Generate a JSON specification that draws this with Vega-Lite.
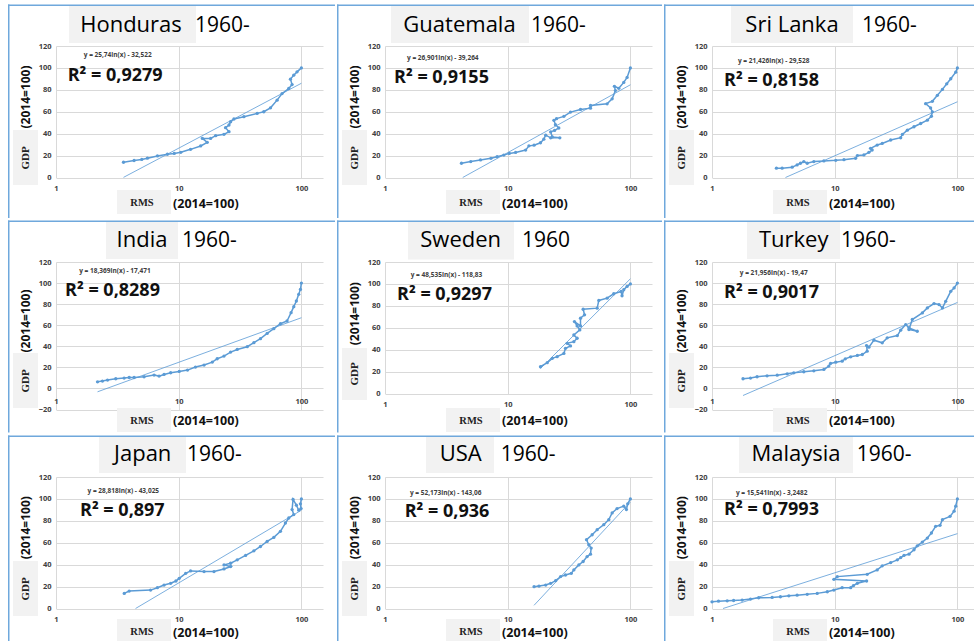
{
"$schema": "https://vega.github.io/schema/vega-lite/v6.json",
"padding": {"left": 7, "top": 3, "right": 0, "bottom": 0},
"background": "white",
"spacing": 0,
"columns": 3,
"config": {
  "view": {"stroke": null},
  "axis": {"grid": true, "gridColor": "#d9d9d9", "gridWidth": 1, "domain": false, "ticks": false, "labelFont": "Open Sans", "labelFontSize": 7.5, "labelFontWeight": "bold", "labelColor": "#404040", "labelFlush": false, "labelOverlap": false, "labelSeparation": 0, "labelBound": false},
  "axisX": {"labelPadding": 7},
  "axisY": {"labelPadding": 5, "labelOverlap": false}
},
"datasets": {
"pts": [
{"c":"Honduras","i":1,"x":3.55,"y":13.9},{"c":"Honduras","i":2,"x":4.33,"y":15.5},{"c":"Honduras","i":3,"x":5.0,"y":16.5},{"c":"Honduras","i":4,"x":5.56,"y":17.6},{"c":"Honduras","i":5,"x":6.71,"y":19.7},{"c":"Honduras","i":6,"x":8.09,"y":21.2},{"c":"Honduras","i":7,"x":9.2,"y":22.0},{"c":"Honduras","i":8,"x":10.4,"y":23.0},{"c":"Honduras","i":9,"x":12.5,"y":25.7},{"c":"Honduras","i":10,"x":15.1,"y":28.8},{"c":"Honduras","i":11,"x":17.1,"y":32.1},{"c":"Honduras","i":12,"x":15.6,"y":35.7},{"c":"Honduras","i":13,"x":18.2,"y":35.7},{"c":"Honduras","i":14,"x":20.0,"y":38.2},{"c":"Honduras","i":15,"x":23.4,"y":39.4},{"c":"Honduras","i":16,"x":25.7,"y":41.8},{"c":"Honduras","i":17,"x":24.1,"y":45.5},{"c":"Honduras","i":18,"x":25.7,"y":47.9},{"c":"Honduras","i":19,"x":26.5,"y":50.9},{"c":"Honduras","i":20,"x":28.2,"y":53.4},{"c":"Honduras","i":21,"x":34.0,"y":55.5},{"c":"Honduras","i":22,"x":43.6,"y":58.5},{"c":"Honduras","i":23,"x":49.4,"y":60.0},{"c":"Honduras","i":24,"x":56.0,"y":63.6},{"c":"Honduras","i":25,"x":63.4,"y":70.6},{"c":"Honduras","i":26,"x":69.6,"y":76.6},{"c":"Honduras","i":27,"x":78.9,"y":81.2},{"c":"Honduras","i":28,"x":84.0,"y":84.8},{"c":"Honduras","i":29,"x":81.4,"y":89.7},{"c":"Honduras","i":30,"x":86.6,"y":93.4},{"c":"Honduras","i":31,"x":92.2,"y":96.4},{"c":"Honduras","i":32,"x":100,"y":100},
{"c":"Guatemala","i":1,"x":4.2,"y":13},{"c":"Guatemala","i":2,"x":5.0,"y":14.5},{"c":"Guatemala","i":3,"x":6.0,"y":16},{"c":"Guatemala","i":4,"x":7.3,"y":17.5},{"c":"Guatemala","i":5,"x":8.2,"y":19},{"c":"Guatemala","i":6,"x":9.3,"y":20.5},{"c":"Guatemala","i":7,"x":10.3,"y":22},{"c":"Guatemala","i":8,"x":11.6,"y":22.9},{"c":"Guatemala","i":9,"x":14,"y":25},{"c":"Guatemala","i":10,"x":14.9,"y":28.9},{"c":"Guatemala","i":11,"x":16.4,"y":29.5},{"c":"Guatemala","i":12,"x":18.5,"y":31.7},{"c":"Guatemala","i":13,"x":19.7,"y":35},{"c":"Guatemala","i":14,"x":20.4,"y":38.6},{"c":"Guatemala","i":15,"x":22.4,"y":36.2},{"c":"Guatemala","i":16,"x":26.6,"y":36.2},{"c":"Guatemala","i":17,"x":23.1,"y":37},{"c":"Guatemala","i":18,"x":22.4,"y":41.6},{"c":"Guatemala","i":19,"x":24.1,"y":43},{"c":"Guatemala","i":20,"x":26.1,"y":45.2},{"c":"Guatemala","i":21,"x":24.5,"y":48.2},{"c":"Guatemala","i":22,"x":23.8,"y":52.2},{"c":"Guatemala","i":23,"x":25,"y":53.7},{"c":"Guatemala","i":24,"x":28.7,"y":55.8},{"c":"Guatemala","i":25,"x":32.5,"y":59.7},{"c":"Guatemala","i":26,"x":39.2,"y":62.1},{"c":"Guatemala","i":27,"x":47.3,"y":63.3},{"c":"Guatemala","i":28,"x":47.3,"y":65.7},{"c":"Guatemala","i":29,"x":64.6,"y":67.2},{"c":"Guatemala","i":30,"x":71,"y":71.8},{"c":"Guatemala","i":31,"x":75.5,"y":79.3},{"c":"Guatemala","i":32,"x":74.1,"y":83.2},{"c":"Guatemala","i":33,"x":80.4,"y":81.4},{"c":"Guatemala","i":34,"x":88.3,"y":86.8},{"c":"Guatemala","i":35,"x":94,"y":91.3},{"c":"Guatemala","i":36,"x":100,"y":100},
{"c":"Sri Lanka","i":1,"x":3.35,"y":8.5},{"c":"Sri Lanka","i":2,"x":3.73,"y":8.5},{"c":"Sri Lanka","i":3,"x":4.5,"y":9.4},{"c":"Sri Lanka","i":4,"x":4.94,"y":11.5},{"c":"Sri Lanka","i":5,"x":5.26,"y":13},{"c":"Sri Lanka","i":6,"x":5.6,"y":14.5},{"c":"Sri Lanka","i":7,"x":5.97,"y":13},{"c":"Sri Lanka","i":8,"x":6.76,"y":14.5},{"c":"Sri Lanka","i":9,"x":8.16,"y":15.1},{"c":"Sri Lanka","i":10,"x":10.2,"y":15.7},{"c":"Sri Lanka","i":11,"x":11.9,"y":16.3},{"c":"Sri Lanka","i":12,"x":14.8,"y":17.5},{"c":"Sri Lanka","i":13,"x":15.3,"y":20},{"c":"Sri Lanka","i":14,"x":17.3,"y":20.6},{"c":"Sri Lanka","i":15,"x":19,"y":23},{"c":"Sri Lanka","i":16,"x":20.2,"y":25.1},{"c":"Sri Lanka","i":17,"x":19.6,"y":26.6},{"c":"Sri Lanka","i":18,"x":22.2,"y":29.6},{"c":"Sri Lanka","i":19,"x":24.4,"y":31.1},{"c":"Sri Lanka","i":20,"x":28.6,"y":34.2},{"c":"Sri Lanka","i":21,"x":34.5,"y":36.3},{"c":"Sri Lanka","i":22,"x":35.6,"y":39.3},{"c":"Sri Lanka","i":23,"x":39.1,"y":43.2},{"c":"Sri Lanka","i":24,"x":44.3,"y":46.3},{"c":"Sri Lanka","i":25,"x":50.2,"y":49.3},{"c":"Sri Lanka","i":26,"x":56.9,"y":52.3},{"c":"Sri Lanka","i":27,"x":61.4,"y":55.9},{"c":"Sri Lanka","i":28,"x":62.5,"y":59.9},{"c":"Sri Lanka","i":29,"x":60.5,"y":63.5},{"c":"Sri Lanka","i":30,"x":55.1,"y":67.4},{"c":"Sri Lanka","i":31,"x":62.5,"y":69.5},{"c":"Sri Lanka","i":32,"x":68.7,"y":75},{"c":"Sri Lanka","i":33,"x":75.5,"y":80.4},{"c":"Sri Lanka","i":34,"x":81.9,"y":85.5},{"c":"Sri Lanka","i":35,"x":88.3,"y":90.1},{"c":"Sri Lanka","i":36,"x":96.9,"y":96.1},{"c":"Sri Lanka","i":37,"x":100,"y":100},
{"c":"India","i":1,"x":2.18,"y":6.3},{"c":"India","i":2,"x":2.39,"y":7},{"c":"India","i":3,"x":2.63,"y":7.9},{"c":"India","i":4,"x":3.07,"y":9.2},{"c":"India","i":5,"x":3.59,"y":9.8},{"c":"India","i":6,"x":3.95,"y":10.4},{"c":"India","i":7,"x":4.33,"y":10.4},{"c":"India","i":8,"x":5.22,"y":11.1},{"c":"India","i":9,"x":6.3,"y":12.7},{"c":"India","i":10,"x":6.92,"y":11.7},{"c":"India","i":11,"x":7.6,"y":13.3},{"c":"India","i":12,"x":8.6,"y":14.9},{"c":"India","i":13,"x":10.1,"y":16.1},{"c":"India","i":14,"x":11.8,"y":17.4},{"c":"India","i":15,"x":13.7,"y":20.3},{"c":"India","i":16,"x":16.1,"y":22.2},{"c":"India","i":17,"x":18.8,"y":25},{"c":"India","i":18,"x":20.6,"y":28.2},{"c":"India","i":19,"x":23.4,"y":30.7},{"c":"India","i":20,"x":26.5,"y":34.5},{"c":"India","i":21,"x":30,"y":37},{"c":"India","i":22,"x":36.2,"y":39.6},{"c":"India","i":23,"x":41,"y":43.4},{"c":"India","i":24,"x":46.4,"y":47.2},{"c":"India","i":25,"x":52.6,"y":52.2},{"c":"India","i":26,"x":59.6,"y":56.7},{"c":"India","i":27,"x":67.5,"y":61.4},{"c":"India","i":28,"x":76.4,"y":64},{"c":"India","i":29,"x":82.4,"y":71.9},{"c":"India","i":30,"x":86.7,"y":77.6},{"c":"India","i":31,"x":91,"y":83},{"c":"India","i":32,"x":95.1,"y":89.3},{"c":"India","i":33,"x":98.2,"y":94},{"c":"India","i":34,"x":100,"y":100},
{"c":"Sweden","i":1,"x":18.5,"y":24.4},{"c":"Sweden","i":2,"x":21,"y":28.1},{"c":"Sweden","i":3,"x":23.1,"y":32.1},{"c":"Sweden","i":4,"x":25.3,"y":33.6},{"c":"Sweden","i":5,"x":28.7,"y":36.6},{"c":"Sweden","i":6,"x":29.6,"y":41.2},{"c":"Sweden","i":7,"x":32.5,"y":43.4},{"c":"Sweden","i":8,"x":30.5,"y":45.8},{"c":"Sweden","i":9,"x":34.6,"y":47.3},{"c":"Sweden","i":10,"x":36.8,"y":50.4},{"c":"Sweden","i":11,"x":34.6,"y":53.4},{"c":"Sweden","i":12,"x":38.7,"y":58},{"c":"Sweden","i":13,"x":36.8,"y":61.7},{"c":"Sweden","i":14,"x":35,"y":65.6},{"c":"Sweden","i":15,"x":39.2,"y":61.7},{"c":"Sweden","i":16,"x":39.2,"y":68.7},{"c":"Sweden","i":17,"x":42.3,"y":71.8},{"c":"Sweden","i":18,"x":41.2,"y":76.9},{"c":"Sweden","i":19,"x":53.6,"y":77.9},{"c":"Sweden","i":20,"x":55.3,"y":84.9},{"c":"Sweden","i":21,"x":64.6,"y":87},{"c":"Sweden","i":22,"x":73.2,"y":91},{"c":"Sweden","i":23,"x":84,"y":93.1},{"c":"Sweden","i":24,"x":85.5,"y":89.2},{"c":"Sweden","i":25,"x":88.3,"y":94.7},{"c":"Sweden","i":26,"x":94,"y":97.7},{"c":"Sweden","i":27,"x":100,"y":100},
{"c":"Turkey","i":1,"x":1.79,"y":9.2},{"c":"Turkey","i":2,"x":2.06,"y":9.8},{"c":"Turkey","i":3,"x":2.33,"y":11.1},{"c":"Turkey","i":4,"x":2.81,"y":12},{"c":"Turkey","i":5,"x":3.4,"y":12.6},{"c":"Turkey","i":6,"x":4.1,"y":13.9},{"c":"Turkey","i":7,"x":4.64,"y":14.8},{"c":"Turkey","i":8,"x":5.6,"y":15.8},{"c":"Turkey","i":9,"x":6.76,"y":16.7},{"c":"Turkey","i":10,"x":8.16,"y":18},{"c":"Turkey","i":11,"x":8.96,"y":21.2},{"c":"Turkey","i":12,"x":9.25,"y":23.7},{"c":"Turkey","i":13,"x":10.2,"y":24.9},{"c":"Turkey","i":14,"x":11.5,"y":25.9},{"c":"Turkey","i":15,"x":12.2,"y":28.1},{"c":"Turkey","i":16,"x":13.5,"y":30},{"c":"Turkey","i":17,"x":15.3,"y":31.3},{"c":"Turkey","i":18,"x":16.8,"y":32.2},{"c":"Turkey","i":19,"x":18.4,"y":35.4},{"c":"Turkey","i":20,"x":18.2,"y":40.7},{"c":"Turkey","i":21,"x":19,"y":39.2},{"c":"Turkey","i":22,"x":20.9,"y":45.8},{"c":"Turkey","i":23,"x":24.4,"y":43.3},{"c":"Turkey","i":24,"x":26.8,"y":48},{"c":"Turkey","i":25,"x":32.4,"y":50.2},{"c":"Turkey","i":26,"x":34.5,"y":55.3},{"c":"Turkey","i":27,"x":37.9,"y":60.6},{"c":"Turkey","i":28,"x":40.3,"y":57.5},{"c":"Turkey","i":29,"x":47.1,"y":54.3},{"c":"Turkey","i":30,"x":40.3,"y":55.9},{"c":"Turkey","i":31,"x":42.9,"y":65.4},{"c":"Turkey","i":32,"x":51.8,"y":71.7},{"c":"Turkey","i":33,"x":56.9,"y":76.4},{"c":"Turkey","i":34,"x":64.5,"y":80.5},{"c":"Turkey","i":35,"x":70.8,"y":79.6},{"c":"Turkey","i":36,"x":75.5,"y":76.4},{"c":"Turkey","i":37,"x":80.3,"y":82.7},{"c":"Turkey","i":38,"x":88.3,"y":92.2},{"c":"Turkey","i":39,"x":94,"y":95.4},{"c":"Turkey","i":40,"x":100,"y":100},
{"c":"Japan","i":1,"x":3.6,"y":13.8},{"c":"Japan","i":2,"x":3.95,"y":15.9},{"c":"Japan","i":3,"x":5.9,"y":16.8},{"c":"Japan","i":4,"x":6.7,"y":19},{"c":"Japan","i":5,"x":7.6,"y":21.4},{"c":"Japan","i":6,"x":8.6,"y":23},{"c":"Japan","i":7,"x":9.5,"y":25.1},{"c":"Japan","i":8,"x":10.1,"y":27.5},{"c":"Japan","i":9,"x":11.4,"y":32.1},{"c":"Japan","i":10,"x":12.5,"y":34.3},{"c":"Japan","i":11,"x":16.1,"y":33.7},{"c":"Japan","i":12,"x":19.4,"y":33.7},{"c":"Japan","i":13,"x":23.4,"y":36.1},{"c":"Japan","i":14,"x":26.5,"y":38.3},{"c":"Japan","i":15,"x":23.4,"y":39.8},{"c":"Japan","i":16,"x":26.5,"y":41.3},{"c":"Japan","i":17,"x":30,"y":44.4},{"c":"Japan","i":18,"x":35.1,"y":48.4},{"c":"Japan","i":19,"x":41,"y":52.6},{"c":"Japan","i":20,"x":46.4,"y":56.6},{"c":"Japan","i":21,"x":52.6,"y":61.2},{"c":"Japan","i":22,"x":59.6,"y":64.9},{"c":"Japan","i":23,"x":67.5,"y":70.4},{"c":"Japan","i":24,"x":74.1,"y":78},{"c":"Japan","i":25,"x":78.9,"y":82.6},{"c":"Japan","i":26,"x":86.7,"y":85.7},{"c":"Japan","i":27,"x":84,"y":90.3},{"c":"Japan","i":28,"x":85.5,"y":99.5},{"c":"Japan","i":29,"x":91,"y":94.3},{"c":"Japan","i":30,"x":95.1,"y":89.7},{"c":"Japan","i":31,"x":99.4,"y":91.2},{"c":"Japan","i":32,"x":98.2,"y":95.5},{"c":"Japan","i":33,"x":100,"y":100},
{"c":"USA","i":1,"x":16.4,"y":19.9},{"c":"USA","i":2,"x":18,"y":20.5},{"c":"USA","i":3,"x":20.4,"y":21.4},{"c":"USA","i":4,"x":22.4,"y":23},{"c":"USA","i":5,"x":24.6,"y":25.4},{"c":"USA","i":6,"x":27,"y":29.1},{"c":"USA","i":7,"x":29.6,"y":30.6},{"c":"USA","i":8,"x":33,"y":32.1},{"c":"USA","i":9,"x":34.6,"y":35.2},{"c":"USA","i":10,"x":38,"y":39.8},{"c":"USA","i":11,"x":41.2,"y":42.9},{"c":"USA","i":12,"x":44.4,"y":47.4},{"c":"USA","i":13,"x":47.3,"y":49.6},{"c":"USA","i":14,"x":47.9,"y":55.1},{"c":"USA","i":15,"x":45.8,"y":58.2},{"c":"USA","i":16,"x":43.9,"y":62.8},{"c":"USA","i":17,"x":48.8,"y":67.3},{"c":"USA","i":18,"x":53.6,"y":71.9},{"c":"USA","i":19,"x":60.7,"y":76.5},{"c":"USA","i":20,"x":66.7,"y":81.1},{"c":"USA","i":21,"x":71,"y":87.2},{"c":"USA","i":22,"x":77.9,"y":91.2},{"c":"USA","i":23,"x":88.3,"y":93.4},{"c":"USA","i":24,"x":92.8,"y":90.3},{"c":"USA","i":25,"x":95.1,"y":95.5},{"c":"USA","i":26,"x":100,"y":100},
{"c":"Malaysia","i":1,"x":1,"y":6.1},{"c":"Malaysia","i":2,"x":1.13,"y":6.7},{"c":"Malaysia","i":3,"x":1.33,"y":7},{"c":"Malaysia","i":4,"x":1.5,"y":7.3},{"c":"Malaysia","i":5,"x":1.76,"y":7.7},{"c":"Malaysia","i":6,"x":2.06,"y":8.6},{"c":"Malaysia","i":7,"x":2.4,"y":9.8},{"c":"Malaysia","i":8,"x":3.09,"y":10.1},{"c":"Malaysia","i":9,"x":3.61,"y":10.7},{"c":"Malaysia","i":10,"x":4.23,"y":11.6},{"c":"Malaysia","i":11,"x":4.94,"y":12.2},{"c":"Malaysia","i":12,"x":5.97,"y":12.9},{"c":"Malaysia","i":13,"x":7.2,"y":13.8},{"c":"Malaysia","i":14,"x":8.7,"y":15.3},{"c":"Malaysia","i":15,"x":9.85,"y":16.8},{"c":"Malaysia","i":16,"x":11.5,"y":19},{"c":"Malaysia","i":17,"x":13.5,"y":19},{"c":"Malaysia","i":18,"x":14.2,"y":20.8},{"c":"Malaysia","i":19,"x":15.3,"y":23},{"c":"Malaysia","i":20,"x":18.2,"y":25.1},{"c":"Malaysia","i":21,"x":9.85,"y":26.6},{"c":"Malaysia","i":22,"x":10.5,"y":29.1},{"c":"Malaysia","i":23,"x":18.4,"y":31.2},{"c":"Malaysia","i":24,"x":22.2,"y":35.2},{"c":"Malaysia","i":25,"x":24.4,"y":38.9},{"c":"Malaysia","i":26,"x":28.6,"y":41.9},{"c":"Malaysia","i":27,"x":32.4,"y":44.4},{"c":"Malaysia","i":28,"x":34.5,"y":46.5},{"c":"Malaysia","i":29,"x":36.7,"y":48.4},{"c":"Malaysia","i":30,"x":40.3,"y":49.6},{"c":"Malaysia","i":31,"x":44.3,"y":53.6},{"c":"Malaysia","i":32,"x":47.1,"y":57.2},{"c":"Malaysia","i":33,"x":51.8,"y":60.6},{"c":"Malaysia","i":34,"x":56.9,"y":64.3},{"c":"Malaysia","i":35,"x":61.4,"y":68.9},{"c":"Malaysia","i":36,"x":66.5,"y":75},{"c":"Malaysia","i":37,"x":72.2,"y":75.9},{"c":"Malaysia","i":38,"x":75.5,"y":81.1},{"c":"Malaysia","i":39,"x":87.1,"y":84.1},{"c":"Malaysia","i":40,"x":94,"y":88.8},{"c":"Malaysia","i":41,"x":96.9,"y":93.4},{"c":"Malaysia","i":42,"x":100,"y":100}
],
"trend": [
{"c":"Honduras","x":3.55,"y":0.1},{"c":"Honduras","x":100,"y":86.0},
{"c":"Guatemala","x":4.3,"y":0},{"c":"Guatemala","x":100,"y":84.6},
{"c":"Sri Lanka","x":3.97,"y":0},{"c":"Sri Lanka","x":100,"y":69.1},
{"c":"India","x":2.18,"y":-3.2},{"c":"India","x":100,"y":67.1},
{"c":"Sweden","x":18.5,"y":22.8},{"c":"Sweden","x":100,"y":104.7},
{"c":"Turkey","x":1.79,"y":-6.7},{"c":"Turkey","x":100,"y":81.6},
{"c":"Japan","x":4.45,"y":0},{"c":"Japan","x":100,"y":89.7},
{"c":"USA","x":16.4,"y":2.9},{"c":"USA","x":100,"y":97.2},
{"c":"Malaysia","x":1.23,"y":0},{"c":"Malaysia","x":100,"y":68.3}
]
},
"concat": [
{"width":267,"height":131.5,"data":{"values":[{}]},"layer":[
 {"mark":{"type":"rect","fill":"white","opacity":0},"encoding":{"x":{"datum":0.40624},"x2":{"datum":187.86},"y":{"datum":157.871},"y2":{"datum":-36.96}}},
 {"mark":{"type":"rect","fill":"#f2f2f2"},"encoding":{"x":{"datum":1.2762},"x2":{"datum":13.834},"y":{"datum":157.414},"y2":{"datum":122.738}}},
 {"mark":{"type":"rect","fill":"#f2f2f2"},"encoding":{"x":{"datum":0.44614},"x2":{"datum":0.71334},"y":{"datum":43.346},"y2":{"datum":-6.845}}},
 {"mark":{"type":"rect","fill":"#f2f2f2"},"encoding":{"x":{"datum":3.1418},"x2":{"datum":8.6543},"y":{"datum":-11.407},"y2":{"datum":-33.308}}},
 {"mark":{"type":"rule","color":"#6fa8dc","strokeWidth":1.5},"encoding":{"x":{"datum":0.40624},"x2":{"datum":187.86},"y":{"datum":157.186}}},
 {"mark":{"type":"rule","color":"#6fa8dc","strokeWidth":1.5},"encoding":{"x":{"datum":0.412},"y":{"datum":157.871},"y2":{"datum":-36.96}}},
 {"mark":{"type":"text","text":"Honduras","font":"Open Sans","fontSize":22,"align":"center","baseline":"alphabetic","color":"#000000"},"encoding":{"x":{"datum":4.0858},"y":{"datum":132.776}}},
 {"mark":{"type":"text","text":"1960-","font":"Open Sans","fontSize":21,"align":"left","baseline":"alphabetic","color":"#000000"},"encoding":{"x":{"datum":13.577},"y":{"datum":132.776}}},
 {"mark":{"type":"text","text":"GDP","font":"Liberation Serif","fontSize":11,"fontWeight":"bold","angle":270,"align":"center","baseline":"middle","color":"#222222"},"encoding":{"x":{"datum":0.5644},"y":{"datum":17.795}}},
 {"mark":{"type":"text","text":"(2014=100)","font":"Open Sans","fontSize":12,"fontWeight":"bold","angle":270,"align":"center","baseline":"middle","color":"#111111"},"encoding":{"x":{"datum":0.5644},"y":{"datum":73.46}}},
 {"mark":{"type":"text","text":"RMS","font":"Liberation Serif","fontSize":10.5,"fontWeight":"bold","align":"center","baseline":"middle","color":"#222222"},"encoding":{"x":{"datum":5.0222},"y":{"datum":-23.27}}},
 {"mark":{"type":"text","text":"(2014=100)","font":"Open Sans","fontSize":12.5,"fontWeight":"bold","align":"left","baseline":"middle","color":"#111111"},"encoding":{"x":{"datum":8.985},"y":{"datum":-24.18}}},
 {"mark":{"type":"text","text":"y = 25,74ln(x) - 32,522","font":"Open Sans","fontSize":6.5,"fontWeight":"bold","align":"center","baseline":"middle","color":"#404040"},"encoding":{"x":{"datum":3.1833},"y":{"datum":112.06}}},
 {"mark":{"type":"text","text":"R² = 0,9279","font":"Open Sans","fontSize":18,"fontWeight":"bold","align":"left","baseline":"middle","color":"#111111"},"encoding":{"x":{"datum":1.2455},"y":{"datum":92.62}}},
 {"data":{"name":"trend"},"transform":[{"filter":"datum.c === 'Honduras'"}],"mark":{"type":"line","color":"#5b9bd5","strokeWidth":0.8},"encoding":{"x":{"field":"x","type":"quantitative"},"y":{"field":"y","type":"quantitative"}}},
 {"data":{"name":"pts"},"transform":[{"filter":"datum.c === 'Honduras'"}],"mark":{"type":"line","color":"#5b9bd5","strokeWidth":1.5,"point":{"filled":true,"size":11,"color":"#5b9bd5"}},"encoding":{"x":{"field":"x","type":"quantitative","scale":{"type":"log","domain":[1,150],"nice":false},"axis":{"values":[1,10,100],"format":"d","title":null}},"y":{"field":"y","type":"quantitative","scale":{"domain":[0,120],"nice":false,"zero":false},"axis":{"values":[0,20,40,60,80,100,120],"title":null,"labelOverlap":false,"tickCount":7}},"order":{"field":"i"}}}
]},
{"width":267,"height":131.5,"data":{"values":[{}]},"layer":[
 {"mark":{"type":"rect","fill":"white","opacity":0},"encoding":{"x":{"datum":0.40624},"x2":{"datum":180.94},"y":{"datum":157.871},"y2":{"datum":-36.96}}},
 {"mark":{"type":"rect","fill":"#f2f2f2"},"encoding":{"x":{"datum":1.1192},"x2":{"datum":14.918},"y":{"datum":157.414},"y2":{"datum":122.738}}},
 {"mark":{"type":"rect","fill":"#f2f2f2"},"encoding":{"x":{"datum":0.44614},"x2":{"datum":0.71334},"y":{"datum":43.346},"y2":{"datum":-6.845}}},
 {"mark":{"type":"rect","fill":"#f2f2f2"},"encoding":{"x":{"datum":3.1418},"x2":{"datum":8.6543},"y":{"datum":-11.407},"y2":{"datum":-33.308}}},
 {"mark":{"type":"rule","color":"#6fa8dc","strokeWidth":1.5},"encoding":{"x":{"datum":0.40624},"x2":{"datum":180.94},"y":{"datum":157.186}}},
 {"mark":{"type":"rule","color":"#6fa8dc","strokeWidth":1.5},"encoding":{"x":{"datum":0.412},"y":{"datum":157.871},"y2":{"datum":-36.96}}},
 {"mark":{"type":"text","text":"Guatemala","font":"Open Sans","fontSize":22,"align":"center","baseline":"alphabetic","color":"#000000"},"encoding":{"x":{"datum":4.0477},"y":{"datum":132.776}}},
 {"mark":{"type":"text","text":"1960-","font":"Open Sans","fontSize":21,"align":"left","baseline":"alphabetic","color":"#000000"},"encoding":{"x":{"datum":15.489},"y":{"datum":132.776}}},
 {"mark":{"type":"text","text":"GDP","font":"Liberation Serif","fontSize":11,"fontWeight":"bold","angle":270,"align":"center","baseline":"middle","color":"#222222"},"encoding":{"x":{"datum":0.5644},"y":{"datum":17.795}}},
 {"mark":{"type":"text","text":"(2014=100)","font":"Open Sans","fontSize":12,"fontWeight":"bold","angle":270,"align":"center","baseline":"middle","color":"#111111"},"encoding":{"x":{"datum":0.5644},"y":{"datum":73.46}}},
 {"mark":{"type":"text","text":"RMS","font":"Liberation Serif","fontSize":10.5,"fontWeight":"bold","align":"center","baseline":"middle","color":"#222222"},"encoding":{"x":{"datum":5.0222},"y":{"datum":-23.27}}},
 {"mark":{"type":"text","text":"(2014=100)","font":"Open Sans","fontSize":12.5,"fontWeight":"bold","align":"left","baseline":"middle","color":"#111111"},"encoding":{"x":{"datum":8.985},"y":{"datum":-24.18}}},
 {"mark":{"type":"text","text":"y = 26,901ln(x) - 39,264","font":"Open Sans","fontSize":6.5,"fontWeight":"bold","align":"center","baseline":"middle","color":"#404040"},"encoding":{"x":{"datum":2.9587},"y":{"datum":109.32}}},
 {"mark":{"type":"text","text":"R² = 0,9155","font":"Open Sans","fontSize":18,"fontWeight":"bold","align":"left","baseline":"middle","color":"#111111"},"encoding":{"x":{"datum":1.184},"y":{"datum":90.8}}},
 {"data":{"name":"trend"},"transform":[{"filter":"datum.c === 'Guatemala'"}],"mark":{"type":"line","color":"#5b9bd5","strokeWidth":0.8},"encoding":{"x":{"field":"x","type":"quantitative"},"y":{"field":"y","type":"quantitative"}}},
 {"data":{"name":"pts"},"transform":[{"filter":"datum.c === 'Guatemala'"}],"mark":{"type":"line","color":"#5b9bd5","strokeWidth":1.5,"point":{"filled":true,"size":11,"color":"#5b9bd5"}},"encoding":{"x":{"field":"x","type":"quantitative","scale":{"type":"log","domain":[1,150],"nice":false},"axis":{"values":[1,10,100],"format":"d","title":null}},"y":{"field":"y","type":"quantitative","scale":{"domain":[0,120],"nice":false,"zero":false},"axis":{"values":[0,20,40,60,80,100,120],"title":null,"labelOverlap":false,"tickCount":7}},"order":{"field":"i"}}}
]},
{"width":267,"height":131.5,"data":{"values":[{}]},"layer":[
 {"mark":{"type":"rect","fill":"white","opacity":0},"encoding":{"x":{"datum":0.40624},"x2":{"datum":150},"y":{"datum":157.871},"y2":{"datum":-36.96}}},
 {"mark":{"type":"rect","fill":"#f2f2f2"},"encoding":{"x":{"datum":1.4285},"x2":{"datum":14.096},"y":{"datum":157.414},"y2":{"datum":122.738}}},
 {"mark":{"type":"rect","fill":"#f2f2f2"},"encoding":{"x":{"datum":0.44614},"x2":{"datum":0.71334},"y":{"datum":43.346},"y2":{"datum":-6.845}}},
 {"mark":{"type":"rect","fill":"#f2f2f2"},"encoding":{"x":{"datum":3.1418},"x2":{"datum":8.6543},"y":{"datum":-11.407},"y2":{"datum":-33.308}}},
 {"mark":{"type":"rule","color":"#6fa8dc","strokeWidth":1.5},"encoding":{"x":{"datum":0.40624},"x2":{"datum":150},"y":{"datum":157.186}}},
 {"mark":{"type":"rule","color":"#6fa8dc","strokeWidth":1.5},"encoding":{"x":{"datum":0.412},"y":{"datum":157.871},"y2":{"datum":-36.96}}},
 {"mark":{"type":"text","text":"Sri Lanka","font":"Open Sans","fontSize":22,"align":"center","baseline":"alphabetic","color":"#000000"},"encoding":{"x":{"datum":4.4875},"y":{"datum":132.776}}},
 {"mark":{"type":"text","text":"1960-","font":"Open Sans","fontSize":21,"align":"left","baseline":"alphabetic","color":"#000000"},"encoding":{"x":{"datum":16.694},"y":{"datum":132.776}}},
 {"mark":{"type":"text","text":"GDP","font":"Liberation Serif","fontSize":11,"fontWeight":"bold","angle":270,"align":"center","baseline":"middle","color":"#222222"},"encoding":{"x":{"datum":0.5644},"y":{"datum":17.795}}},
 {"mark":{"type":"text","text":"(2014=100)","font":"Open Sans","fontSize":12,"fontWeight":"bold","angle":270,"align":"center","baseline":"middle","color":"#111111"},"encoding":{"x":{"datum":0.5644},"y":{"datum":73.46}}},
 {"mark":{"type":"text","text":"RMS","font":"Liberation Serif","fontSize":10.5,"fontWeight":"bold","align":"center","baseline":"middle","color":"#222222"},"encoding":{"x":{"datum":5.0222},"y":{"datum":-23.27}}},
 {"mark":{"type":"text","text":"(2014=100)","font":"Open Sans","fontSize":12.5,"fontWeight":"bold","align":"left","baseline":"middle","color":"#111111"},"encoding":{"x":{"datum":8.985},"y":{"datum":-24.18}}},
 {"mark":{"type":"text","text":"y = 21,426ln(x) - 29,528","font":"Open Sans","fontSize":6.5,"fontWeight":"bold","align":"center","baseline":"middle","color":"#404040"},"encoding":{"x":{"datum":3.1833},"y":{"datum":106.31}}},
 {"mark":{"type":"text","text":"R² = 0,8158","font":"Open Sans","fontSize":18,"fontWeight":"bold","align":"left","baseline":"middle","color":"#111111"},"encoding":{"x":{"datum":1.2525},"y":{"datum":88.43}}},
 {"data":{"name":"trend"},"transform":[{"filter":"datum.c === 'Sri Lanka'"}],"mark":{"type":"line","color":"#5b9bd5","strokeWidth":0.8},"encoding":{"x":{"field":"x","type":"quantitative"},"y":{"field":"y","type":"quantitative"}}},
 {"data":{"name":"pts"},"transform":[{"filter":"datum.c === 'Sri Lanka'"}],"mark":{"type":"line","color":"#5b9bd5","strokeWidth":1.5,"point":{"filled":true,"size":11,"color":"#5b9bd5"}},"encoding":{"x":{"field":"x","type":"quantitative","scale":{"type":"log","domain":[1,150],"nice":false},"axis":{"values":[1,10,100],"format":"d","title":null}},"y":{"field":"y","type":"quantitative","scale":{"domain":[0,120],"nice":false,"zero":false},"axis":{"values":[0,20,40,60,80,100,120],"title":null,"labelOverlap":false,"tickCount":7}},"order":{"field":"i"}}}
]},
{"width":267,"height":147.5,"data":{"values":[{}]},"layer":[
 {"mark":{"type":"rect","fill":"white","opacity":0},"encoding":{"x":{"datum":0.40624},"x2":{"datum":187.86},"y":{"datum":159.39},"y2":{"datum":-41.83}}},
 {"mark":{"type":"rect","fill":"#f2f2f2"},"encoding":{"x":{"datum":2.5556},"x2":{"datum":9.8696},"y":{"datum":158.915},"y2":{"datum":122.847}}},
 {"mark":{"type":"rect","fill":"#f2f2f2"},"encoding":{"x":{"datum":0.44614},"x2":{"datum":0.71334},"y":{"datum":33.627},"y2":{"datum":-18.576}}},
 {"mark":{"type":"rect","fill":"#f2f2f2"},"encoding":{"x":{"datum":3.1418},"x2":{"datum":8.6543},"y":{"datum":-18.576},"y2":{"datum":-41.356}}},
 {"mark":{"type":"rule","color":"#6fa8dc","strokeWidth":1.5},"encoding":{"x":{"datum":0.40624},"x2":{"datum":187.86},"y":{"datum":158.678}}},
 {"mark":{"type":"rule","color":"#6fa8dc","strokeWidth":1.5},"encoding":{"x":{"datum":0.412},"y":{"datum":159.39},"y2":{"datum":-41.83}}},
 {"mark":{"type":"text","text":"India","font":"Open Sans","fontSize":22,"align":"center","baseline":"alphabetic","color":"#000000"},"encoding":{"x":{"datum":5.0222},"y":{"datum":134.237}}},
 {"mark":{"type":"text","text":"1960-","font":"Open Sans","fontSize":21,"align":"left","baseline":"alphabetic","color":"#000000"},"encoding":{"x":{"datum":10.639},"y":{"datum":134.237}}},
 {"mark":{"type":"text","text":"GDP","font":"Liberation Serif","fontSize":11,"fontWeight":"bold","angle":270,"align":"center","baseline":"middle","color":"#222222"},"encoding":{"x":{"datum":0.5644},"y":{"datum":7.051}}},
 {"mark":{"type":"text","text":"(2014=100)","font":"Open Sans","fontSize":12,"fontWeight":"bold","angle":270,"align":"center","baseline":"middle","color":"#111111"},"encoding":{"x":{"datum":0.5644},"y":{"datum":64.0}}},
 {"mark":{"type":"text","text":"RMS","font":"Liberation Serif","fontSize":10.5,"fontWeight":"bold","align":"center","baseline":"middle","color":"#222222"},"encoding":{"x":{"datum":5.0222},"y":{"datum":-30.915}}},
 {"mark":{"type":"text","text":"(2014=100)","font":"Open Sans","fontSize":12.5,"fontWeight":"bold","align":"left","baseline":"middle","color":"#111111"},"encoding":{"x":{"datum":8.985},"y":{"datum":-30.915}}},
 {"mark":{"type":"text","text":"y = 18,369ln(x) - 17,471","font":"Open Sans","fontSize":6.5,"fontWeight":"bold","align":"center","baseline":"middle","color":"#404040"},"encoding":{"x":{"datum":3.026},"y":{"datum":111.27}}},
 {"mark":{"type":"text","text":"R² = 0,8289","font":"Open Sans","fontSize":18,"fontWeight":"bold","align":"left","baseline":"middle","color":"#111111"},"encoding":{"x":{"datum":1.184},"y":{"datum":92.47}}},
 {"data":{"name":"trend"},"transform":[{"filter":"datum.c === 'India'"}],"mark":{"type":"line","color":"#5b9bd5","strokeWidth":0.8},"encoding":{"x":{"field":"x","type":"quantitative"},"y":{"field":"y","type":"quantitative"}}},
 {"data":{"name":"pts"},"transform":[{"filter":"datum.c === 'India'"}],"mark":{"type":"line","color":"#5b9bd5","strokeWidth":1.5,"point":{"filled":true,"size":11,"color":"#5b9bd5"}},"encoding":{"x":{"field":"x","type":"quantitative","scale":{"type":"log","domain":[1,150],"nice":false},"axis":{"values":[1,10,100],"format":"d","title":null,"labelPadding":-12}},"y":{"field":"y","type":"quantitative","scale":{"domain":[-20,120],"nice":false,"zero":false},"axis":{"values":[-20,0,20,40,60,80,100,120],"title":null,"labelOverlap":false,"tickCount":8}},"order":{"field":"i"}}}
]},
{"width":267,"height":131.5,"data":{"values":[{}]},"layer":[
 {"mark":{"type":"rect","fill":"white","opacity":0},"encoding":{"x":{"datum":0.40624},"x2":{"datum":180.94},"y":{"datum":157.871},"y2":{"datum":-35.59}}},
 {"mark":{"type":"rect","fill":"#f2f2f2"},"encoding":{"x":{"datum":1.5395},"x2":{"datum":11.255},"y":{"datum":157.414},"y2":{"datum":122.28}}},
 {"mark":{"type":"rect","fill":"#f2f2f2"},"encoding":{"x":{"datum":0.44614},"x2":{"datum":0.71334},"y":{"datum":41.52},"y2":{"datum":-5.93}}},
 {"mark":{"type":"rect","fill":"#f2f2f2"},"encoding":{"x":{"datum":3.1418},"x2":{"datum":8.6543},"y":{"datum":-13.232},"y2":{"datum":-35.133}}},
 {"mark":{"type":"rule","color":"#6fa8dc","strokeWidth":1.5},"encoding":{"x":{"datum":0.40624},"x2":{"datum":180.94},"y":{"datum":157.186}}},
 {"mark":{"type":"rule","color":"#6fa8dc","strokeWidth":1.5},"encoding":{"x":{"datum":0.412},"y":{"datum":157.871},"y2":{"datum":-35.59}}},
 {"mark":{"type":"text","text":"Sweden","font":"Open Sans","fontSize":22,"align":"center","baseline":"alphabetic","color":"#000000"},"encoding":{"x":{"datum":4.1398},"y":{"datum":133.688}}},
 {"mark":{"type":"text","text":"1960","font":"Open Sans","fontSize":21,"align":"left","baseline":"alphabetic","color":"#000000"},"encoding":{"x":{"datum":13.078},"y":{"datum":133.688}}},
 {"mark":{"type":"text","text":"GDP","font":"Liberation Serif","fontSize":11,"fontWeight":"bold","angle":270,"align":"center","baseline":"middle","color":"#222222"},"encoding":{"x":{"datum":0.5644},"y":{"datum":17.795}}},
 {"mark":{"type":"text","text":"(2014=100)","font":"Open Sans","fontSize":12,"fontWeight":"bold","angle":270,"align":"center","baseline":"middle","color":"#111111"},"encoding":{"x":{"datum":0.5644},"y":{"datum":72.82}}},
 {"mark":{"type":"text","text":"RMS","font":"Liberation Serif","fontSize":10.5,"fontWeight":"bold","align":"center","baseline":"middle","color":"#222222"},"encoding":{"x":{"datum":5.0222},"y":{"datum":-25.1}}},
 {"mark":{"type":"text","text":"(2014=100)","font":"Open Sans","fontSize":12.5,"fontWeight":"bold","align":"left","baseline":"middle","color":"#111111"},"encoding":{"x":{"datum":8.985},"y":{"datum":-25.1}}},
 {"mark":{"type":"text","text":"y = 48,535ln(x) - 118,83","font":"Open Sans","fontSize":6.5,"fontWeight":"bold","align":"center","baseline":"middle","color":"#404040"},"encoding":{"x":{"datum":3.1714},"y":{"datum":108.59}}},
 {"mark":{"type":"text","text":"R² = 0,9297","font":"Open Sans","fontSize":18,"fontWeight":"bold","align":"left","baseline":"middle","color":"#111111"},"encoding":{"x":{"datum":1.2525},"y":{"datum":90.34}}},
 {"data":{"name":"trend"},"transform":[{"filter":"datum.c === 'Sweden'"}],"mark":{"type":"line","color":"#5b9bd5","strokeWidth":0.8},"encoding":{"x":{"field":"x","type":"quantitative"},"y":{"field":"y","type":"quantitative"}}},
 {"data":{"name":"pts"},"transform":[{"filter":"datum.c === 'Sweden'"}],"mark":{"type":"line","color":"#5b9bd5","strokeWidth":1.5,"point":{"filled":true,"size":11,"color":"#5b9bd5"}},"encoding":{"x":{"field":"x","type":"quantitative","scale":{"type":"log","domain":[1,150],"nice":false},"axis":{"values":[1,10,100],"format":"d","title":null}},"y":{"field":"y","type":"quantitative","scale":{"domain":[0,120],"nice":false,"zero":false},"axis":{"values":[0,20,40,60,80,100,120],"title":null,"labelOverlap":false,"tickCount":7}},"order":{"field":"i"}}}
]},
{"width":267,"height":147.5,"data":{"values":[{}]},"layer":[
 {"mark":{"type":"rect","fill":"white","opacity":0},"encoding":{"x":{"datum":0.40624},"x2":{"datum":150},"y":{"datum":159.39},"y2":{"datum":-41.83}}},
 {"mark":{"type":"rect","fill":"#f2f2f2"},"encoding":{"x":{"datum":1.9293},"x2":{"datum":11.046},"y":{"datum":158.915},"y2":{"datum":122.847}}},
 {"mark":{"type":"rect","fill":"#f2f2f2"},"encoding":{"x":{"datum":0.44614},"x2":{"datum":0.71334},"y":{"datum":33.627},"y2":{"datum":-18.576}}},
 {"mark":{"type":"rect","fill":"#f2f2f2"},"encoding":{"x":{"datum":3.1418},"x2":{"datum":8.6543},"y":{"datum":-18.576},"y2":{"datum":-41.356}}},
 {"mark":{"type":"rule","color":"#6fa8dc","strokeWidth":1.5},"encoding":{"x":{"datum":0.40624},"x2":{"datum":150},"y":{"datum":158.678}}},
 {"mark":{"type":"rule","color":"#6fa8dc","strokeWidth":1.5},"encoding":{"x":{"datum":0.412},"y":{"datum":159.39},"y2":{"datum":-41.83}}},
 {"mark":{"type":"text","text":"Turkey","font":"Open Sans","fontSize":22,"align":"center","baseline":"alphabetic","color":"#000000"},"encoding":{"x":{"datum":4.633},"y":{"datum":134.237}}},
 {"mark":{"type":"text","text":"1960-","font":"Open Sans","fontSize":21,"align":"left","baseline":"alphabetic","color":"#000000"},"encoding":{"x":{"datum":11.255},"y":{"datum":134.237}}},
 {"mark":{"type":"text","text":"GDP","font":"Liberation Serif","fontSize":11,"fontWeight":"bold","angle":270,"align":"center","baseline":"middle","color":"#222222"},"encoding":{"x":{"datum":0.5644},"y":{"datum":7.051}}},
 {"mark":{"type":"text","text":"(2014=100)","font":"Open Sans","fontSize":12,"fontWeight":"bold","angle":270,"align":"center","baseline":"middle","color":"#111111"},"encoding":{"x":{"datum":0.5644},"y":{"datum":64.0}}},
 {"mark":{"type":"text","text":"RMS","font":"Liberation Serif","fontSize":10.5,"fontWeight":"bold","align":"center","baseline":"middle","color":"#222222"},"encoding":{"x":{"datum":5.0222},"y":{"datum":-30.915}}},
 {"mark":{"type":"text","text":"(2014=100)","font":"Open Sans","fontSize":12.5,"fontWeight":"bold","align":"left","baseline":"middle","color":"#111111"},"encoding":{"x":{"datum":8.985},"y":{"datum":-30.915}}},
 {"mark":{"type":"text","text":"y = 21,956ln(x) - 19,47","font":"Open Sans","fontSize":6.5,"fontWeight":"bold","align":"center","baseline":"middle","color":"#404040"},"encoding":{"x":{"datum":3.1833},"y":{"datum":109.56}}},
 {"mark":{"type":"text","text":"R² = 0,9017","font":"Open Sans","fontSize":18,"fontWeight":"bold","align":"left","baseline":"middle","color":"#111111"},"encoding":{"x":{"datum":1.2525},"y":{"datum":90.58}}},
 {"data":{"name":"trend"},"transform":[{"filter":"datum.c === 'Turkey'"}],"mark":{"type":"line","color":"#5b9bd5","strokeWidth":0.8},"encoding":{"x":{"field":"x","type":"quantitative"},"y":{"field":"y","type":"quantitative"}}},
 {"data":{"name":"pts"},"transform":[{"filter":"datum.c === 'Turkey'"}],"mark":{"type":"line","color":"#5b9bd5","strokeWidth":1.5,"point":{"filled":true,"size":11,"color":"#5b9bd5"}},"encoding":{"x":{"field":"x","type":"quantitative","scale":{"type":"log","domain":[1,150],"nice":false},"axis":{"values":[1,10,100],"format":"d","title":null,"labelPadding":-12}},"y":{"field":"y","type":"quantitative","scale":{"domain":[-20,120],"nice":false,"zero":false},"axis":{"values":[-20,0,20,40,60,80,100,120],"title":null,"labelOverlap":false,"tickCount":8}},"order":{"field":"i"}}}
]},
{"width":267,"height":131.5,"data":{"values":[{}]},"layer":[
 {"mark":{"type":"rect","fill":"white","opacity":0},"encoding":{"x":{"datum":0.40624},"x2":{"datum":187.86},"y":{"datum":157.871},"y2":{"datum":-36.05}}},
 {"mark":{"type":"rect","fill":"#f2f2f2"},"encoding":{"x":{"datum":2.2415},"x2":{"datum":11.468},"y":{"datum":157.414},"y2":{"datum":123.65}}},
 {"mark":{"type":"rect","fill":"#f2f2f2"},"encoding":{"x":{"datum":0.44614},"x2":{"datum":0.71334},"y":{"datum":43.346},"y2":{"datum":-6.845}}},
 {"mark":{"type":"rect","fill":"#f2f2f2"},"encoding":{"x":{"datum":3.1418},"x2":{"datum":8.6543},"y":{"datum":-9.582},"y2":{"datum":-31.483}}},
 {"mark":{"type":"rule","color":"#6fa8dc","strokeWidth":1.5},"encoding":{"x":{"datum":0.40624},"x2":{"datum":187.86},"y":{"datum":157.186}}},
 {"mark":{"type":"rule","color":"#6fa8dc","strokeWidth":1.5},"encoding":{"x":{"datum":0.412},"y":{"datum":157.871},"y2":{"datum":-36.05}}},
 {"mark":{"type":"text","text":"Japan","font":"Open Sans","fontSize":22,"align":"center","baseline":"alphabetic","color":"#000000"},"encoding":{"x":{"datum":5.0885},"y":{"datum":134.601}}},
 {"mark":{"type":"text","text":"1960-","font":"Open Sans","fontSize":21,"align":"left","baseline":"alphabetic","color":"#000000"},"encoding":{"x":{"datum":11.686},"y":{"datum":134.601}}},
 {"mark":{"type":"text","text":"GDP","font":"Liberation Serif","fontSize":11,"fontWeight":"bold","angle":270,"align":"center","baseline":"middle","color":"#222222"},"encoding":{"x":{"datum":0.5644},"y":{"datum":17.795}}},
 {"mark":{"type":"text","text":"(2014=100)","font":"Open Sans","fontSize":12,"fontWeight":"bold","angle":270,"align":"center","baseline":"middle","color":"#111111"},"encoding":{"x":{"datum":0.5644},"y":{"datum":73.73}}},
 {"mark":{"type":"text","text":"RMS","font":"Liberation Serif","fontSize":10.5,"fontWeight":"bold","align":"center","baseline":"middle","color":"#222222"},"encoding":{"x":{"datum":5.0222},"y":{"datum":-21.45}}},
 {"mark":{"type":"text","text":"(2014=100)","font":"Open Sans","fontSize":12.5,"fontWeight":"bold","align":"left","baseline":"middle","color":"#111111"},"encoding":{"x":{"datum":8.985},"y":{"datum":-22.36}}},
 {"mark":{"type":"text","text":"y = 28,818ln(x) - 43,025","font":"Open Sans","fontSize":6.5,"fontWeight":"bold","align":"center","baseline":"middle","color":"#404040"},"encoding":{"x":{"datum":3.536},"y":{"datum":107.22}}},
 {"mark":{"type":"text","text":"R² = 0,897","font":"Open Sans","fontSize":18,"fontWeight":"bold","align":"left","baseline":"middle","color":"#111111"},"encoding":{"x":{"datum":1.5688},"y":{"datum":88.97}}},
 {"data":{"name":"trend"},"transform":[{"filter":"datum.c === 'Japan'"}],"mark":{"type":"line","color":"#5b9bd5","strokeWidth":0.8},"encoding":{"x":{"field":"x","type":"quantitative"},"y":{"field":"y","type":"quantitative"}}},
 {"data":{"name":"pts"},"transform":[{"filter":"datum.c === 'Japan'"}],"mark":{"type":"line","color":"#5b9bd5","strokeWidth":1.5,"point":{"filled":true,"size":11,"color":"#5b9bd5"}},"encoding":{"x":{"field":"x","type":"quantitative","scale":{"type":"log","domain":[1,150],"nice":false},"axis":{"values":[1,10,100],"format":"d","title":null}},"y":{"field":"y","type":"quantitative","scale":{"domain":[0,120],"nice":false,"zero":false},"axis":{"values":[0,20,40,60,80,100,120],"title":null,"labelOverlap":false,"tickCount":7}},"order":{"field":"i"}}}
]},
{"width":267,"height":131.5,"data":{"values":[{}]},"layer":[
 {"mark":{"type":"rect","fill":"white","opacity":0},"encoding":{"x":{"datum":0.40624},"x2":{"datum":180.94},"y":{"datum":157.871},"y2":{"datum":-36.05}}},
 {"mark":{"type":"rect","fill":"#f2f2f2"},"encoding":{"x":{"datum":2.1587},"x2":{"datum":7.7338},"y":{"datum":157.414},"y2":{"datum":123.65}}},
 {"mark":{"type":"rect","fill":"#f2f2f2"},"encoding":{"x":{"datum":0.44614},"x2":{"datum":0.71334},"y":{"datum":43.346},"y2":{"datum":-6.845}}},
 {"mark":{"type":"rect","fill":"#f2f2f2"},"encoding":{"x":{"datum":3.1418},"x2":{"datum":8.6543},"y":{"datum":-9.582},"y2":{"datum":-31.483}}},
 {"mark":{"type":"rule","color":"#6fa8dc","strokeWidth":1.5},"encoding":{"x":{"datum":0.40624},"x2":{"datum":180.94},"y":{"datum":157.186}}},
 {"mark":{"type":"rule","color":"#6fa8dc","strokeWidth":1.5},"encoding":{"x":{"datum":0.412},"y":{"datum":157.871},"y2":{"datum":-36.05}}},
 {"mark":{"type":"text","text":"USA","font":"Open Sans","fontSize":22,"align":"center","baseline":"alphabetic","color":"#000000"},"encoding":{"x":{"datum":4.1398},"y":{"datum":134.601}}},
 {"mark":{"type":"text","text":"1960-","font":"Open Sans","fontSize":21,"align":"left","baseline":"alphabetic","color":"#000000"},"encoding":{"x":{"datum":8.7685},"y":{"datum":134.601}}},
 {"mark":{"type":"text","text":"GDP","font":"Liberation Serif","fontSize":11,"fontWeight":"bold","angle":270,"align":"center","baseline":"middle","color":"#222222"},"encoding":{"x":{"datum":0.5644},"y":{"datum":17.795}}},
 {"mark":{"type":"text","text":"(2014=100)","font":"Open Sans","fontSize":12,"fontWeight":"bold","angle":270,"align":"center","baseline":"middle","color":"#111111"},"encoding":{"x":{"datum":0.5644},"y":{"datum":73.73}}},
 {"mark":{"type":"text","text":"RMS","font":"Liberation Serif","fontSize":10.5,"fontWeight":"bold","align":"center","baseline":"middle","color":"#222222"},"encoding":{"x":{"datum":5.0222},"y":{"datum":-21.45}}},
 {"mark":{"type":"text","text":"(2014=100)","font":"Open Sans","fontSize":12.5,"fontWeight":"bold","align":"left","baseline":"middle","color":"#111111"},"encoding":{"x":{"datum":8.985},"y":{"datum":-22.36}}},
 {"mark":{"type":"text","text":"y = 52,173ln(x) - 143,06","font":"Open Sans","fontSize":6.5,"fontWeight":"bold","align":"center","baseline":"middle","color":"#404040"},"encoding":{"x":{"datum":3.1241},"y":{"datum":105.67}}},
 {"mark":{"type":"text","text":"R² = 0,936","font":"Open Sans","fontSize":18,"fontWeight":"bold","align":"left","baseline":"middle","color":"#111111"},"encoding":{"x":{"datum":1.4472},"y":{"datum":88.06}}},
 {"data":{"name":"trend"},"transform":[{"filter":"datum.c === 'USA'"}],"mark":{"type":"line","color":"#5b9bd5","strokeWidth":0.8},"encoding":{"x":{"field":"x","type":"quantitative"},"y":{"field":"y","type":"quantitative"}}},
 {"data":{"name":"pts"},"transform":[{"filter":"datum.c === 'USA'"}],"mark":{"type":"line","color":"#5b9bd5","strokeWidth":1.5,"point":{"filled":true,"size":11,"color":"#5b9bd5"}},"encoding":{"x":{"field":"x","type":"quantitative","scale":{"type":"log","domain":[1,150],"nice":false},"axis":{"values":[1,10,100],"format":"d","title":null}},"y":{"field":"y","type":"quantitative","scale":{"domain":[0,120],"nice":false,"zero":false},"axis":{"values":[0,20,40,60,80,100,120],"title":null,"labelOverlap":false,"tickCount":7}},"order":{"field":"i"}}}
]},
{"width":267,"height":131.5,"data":{"values":[{}]},"layer":[
 {"mark":{"type":"rect","fill":"white","opacity":0},"encoding":{"x":{"datum":0.40624},"x2":{"datum":150},"y":{"datum":157.871},"y2":{"datum":-36.05}}},
 {"mark":{"type":"rect","fill":"#f2f2f2"},"encoding":{"x":{"datum":1.66},"x2":{"datum":14.096},"y":{"datum":157.414},"y2":{"datum":123.65}}},
 {"mark":{"type":"rect","fill":"#f2f2f2"},"encoding":{"x":{"datum":0.44614},"x2":{"datum":0.71334},"y":{"datum":43.346},"y2":{"datum":-6.845}}},
 {"mark":{"type":"rect","fill":"#f2f2f2"},"encoding":{"x":{"datum":3.1418},"x2":{"datum":8.6543},"y":{"datum":-9.582},"y2":{"datum":-31.483}}},
 {"mark":{"type":"rule","color":"#6fa8dc","strokeWidth":1.5},"encoding":{"x":{"datum":0.40624},"x2":{"datum":150},"y":{"datum":157.186}}},
 {"mark":{"type":"rule","color":"#6fa8dc","strokeWidth":1.5},"encoding":{"x":{"datum":0.412},"y":{"datum":157.871},"y2":{"datum":-36.05}}},
 {"mark":{"type":"text","text":"Malaysia","font":"Open Sans","fontSize":22,"align":"center","baseline":"alphabetic","color":"#000000"},"encoding":{"x":{"datum":4.8378},"y":{"datum":134.601}}},
 {"mark":{"type":"text","text":"1960-","font":"Open Sans","fontSize":21,"align":"left","baseline":"alphabetic","color":"#000000"},"encoding":{"x":{"datum":15.115},"y":{"datum":134.601}}},
 {"mark":{"type":"text","text":"GDP","font":"Liberation Serif","fontSize":11,"fontWeight":"bold","angle":270,"align":"center","baseline":"middle","color":"#222222"},"encoding":{"x":{"datum":0.5644},"y":{"datum":17.795}}},
 {"mark":{"type":"text","text":"(2014=100)","font":"Open Sans","fontSize":12,"fontWeight":"bold","angle":270,"align":"center","baseline":"middle","color":"#111111"},"encoding":{"x":{"datum":0.5644},"y":{"datum":73.73}}},
 {"mark":{"type":"text","text":"RMS","font":"Liberation Serif","fontSize":10.5,"fontWeight":"bold","align":"center","baseline":"middle","color":"#222222"},"encoding":{"x":{"datum":5.0222},"y":{"datum":-21.45}}},
 {"mark":{"type":"text","text":"(2014=100)","font":"Open Sans","fontSize":12.5,"fontWeight":"bold","align":"left","baseline":"middle","color":"#111111"},"encoding":{"x":{"datum":8.985},"y":{"datum":-22.36}}},
 {"mark":{"type":"text","text":"y = 15,541ln(x) - 3,2482","font":"Open Sans","fontSize":6.5,"fontWeight":"bold","align":"center","baseline":"middle","color":"#404040"},"encoding":{"x":{"datum":3.0661},"y":{"datum":105.67}}},
 {"mark":{"type":"text","text":"R² = 0,7993","font":"Open Sans","fontSize":18,"fontWeight":"bold","align":"left","baseline":"middle","color":"#111111"},"encoding":{"x":{"datum":1.2525},"y":{"datum":89.89}}},
 {"data":{"name":"trend"},"transform":[{"filter":"datum.c === 'Malaysia'"}],"mark":{"type":"line","color":"#5b9bd5","strokeWidth":0.8},"encoding":{"x":{"field":"x","type":"quantitative"},"y":{"field":"y","type":"quantitative"}}},
 {"data":{"name":"pts"},"transform":[{"filter":"datum.c === 'Malaysia'"}],"mark":{"type":"line","color":"#5b9bd5","strokeWidth":1.5,"point":{"filled":true,"size":11,"color":"#5b9bd5"}},"encoding":{"x":{"field":"x","type":"quantitative","scale":{"type":"log","domain":[1,150],"nice":false},"axis":{"values":[1,10,100],"format":"d","title":null}},"y":{"field":"y","type":"quantitative","scale":{"domain":[0,120],"nice":false,"zero":false},"axis":{"values":[0,20,40,60,80,100,120],"title":null,"labelOverlap":false,"tickCount":7}},"order":{"field":"i"}}}
]}
]
}
